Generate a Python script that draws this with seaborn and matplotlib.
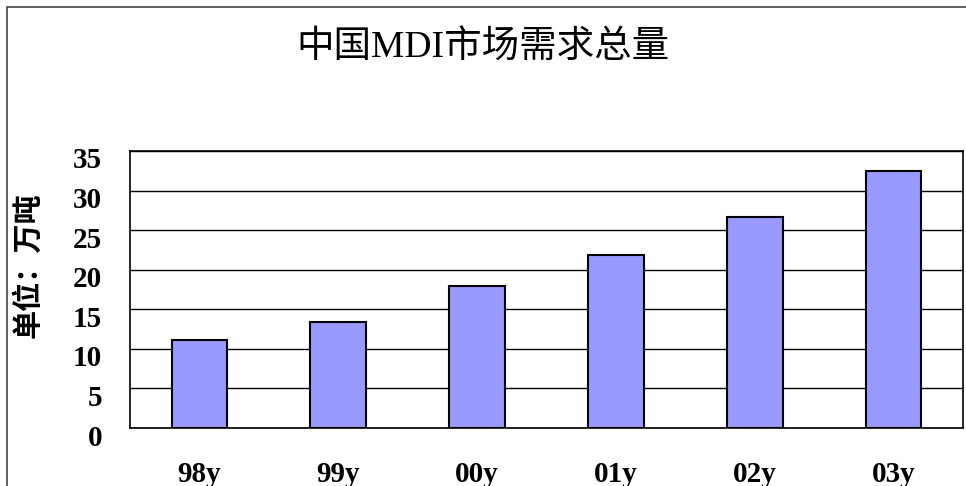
import seaborn as sns
import matplotlib.pyplot as plt
import matplotlib.transforms as mtransforms
from matplotlib.patches import Rectangle
import pandas as pd

# Data
years = ["98y", "99y", "00y", "01y", "02y", "03y"]
demand = [11.1, 13.4, 17.9, 21.8, 26.7, 32.5]

df = pd.DataFrame({"year": years, "demand": demand})

sns.set_style("white")
plt.rcParams['font.family'] = ['Liberation Serif', 'Noto Sans CJK SC', 'DejaVu Sans']
plt.rcParams['text.color'] = 'black'
plt.rcParams['xtick.color'] = 'black'
plt.rcParams['ytick.color'] = 'black'
plt.rcParams['axes.labelcolor'] = 'black'

fig = plt.figure(figsize=(9.66, 4.86), dpi=100)
ax = fig.add_axes([130 / 966, 58 / 486, 833 / 966, 277 / 486])

sns.barplot(data=df, x="year", y="demand", color="#9999FF", width=0.4,
            edgecolor="black", linewidth=1.5, saturation=1, ax=ax, zorder=3)

ax.set_xlim(-0.5, 5.5)
ax.set_ylim(0, 35)
ax.set_yticks(range(0, 36, 5))
ax.yaxis.grid(True, color="black", linewidth=1, zorder=0)
ax.set_axisbelow(True)
for s in ax.spines.values():
    s.set_color("black")
    s.set_linewidth(1.2)

ax.set_xlabel("")
ax.set_ylabel("单位：万吨", fontsize=21, fontweight="bold", va="center")
ax.yaxis.set_label_coords(-0.1224, 0.588)
ax.tick_params(axis="y", length=0, pad=20, labelsize=21)
ax.tick_params(axis="x", length=0, pad=24, labelsize=21)
for lbl in ax.get_yticklabels() + ax.get_xticklabels():
    lbl.set_fontweight("bold")

# category boundary ticks pointing inward
ax.set_xticks([0.5, 1.5, 2.5, 3.5, 4.5], minor=True)
ax.tick_params(axis="x", which="minor", direction="in", length=8, width=1.2, color="black")

# y labels sit a little below their gridlines
offset = mtransforms.ScaledTranslation(0, -7 / 100, fig.dpi_scale_trans)
for lbl in ax.get_yticklabels():
    lbl.set_transform(lbl.get_transform() + offset)

fig.text(0.5, 1 - 48 / 486, "中国MDI市场需求总量", ha="center", va="center", fontsize=27,
         family=['Liberation Serif', 'Noto Sans CJK SC'])

# outer chart frame
fig.patches.append(Rectangle((7 / 966, -0.2), 1.2, 1.2 - 7 / 486, transform=fig.transFigure,
                             fill=False, edgecolor="#444444", linewidth=1.2))

fig.savefig("out.png", dpi=100)
